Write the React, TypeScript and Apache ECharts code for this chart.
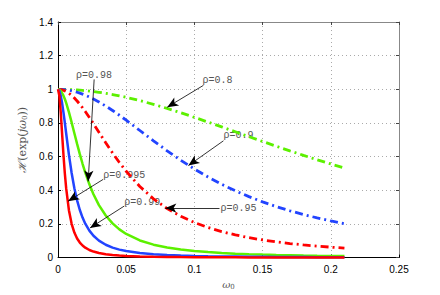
import React, { useEffect, useRef } from "react";
import * as echarts from "echarts";

const omega = [0, 0.001, 0.002, 0.003, 0.004, 0.005, 0.006, 0.008, 0.01, 0.012, 0.014, 0.016, 0.018, 0.02, 0.023, 0.026, 0.03, 0.035, 0.04, 0.045, 0.05, 0.06, 0.07, 0.08, 0.09, 0.1, 0.11, 0.12, 0.13, 0.14, 0.15, 0.16, 0.17, 0.18, 0.19, 0.2, 0.21];

const rho080 = [1, 1, 0.9999, 0.9998, 0.9997, 0.9995, 0.9993, 0.9987, 0.998, 0.9971, 0.9961, 0.9949, 0.9936, 0.9921, 0.9895, 0.9867, 0.9823, 0.9761, 0.969, 0.9611, 0.9524, 0.9329, 0.9108, 0.8866, 0.8607, 0.8335, 0.8053, 0.7766, 0.7477, 0.7187, 0.6901, 0.6619, 0.6343, 0.6074, 0.5815, 0.5564, 0.5323];
const rho090 = [1, 0.9999, 0.9996, 0.9992, 0.9986, 0.9978, 0.9968, 0.9943, 0.9911, 0.9872, 0.9827, 0.9775, 0.9717, 0.9653, 0.9546, 0.9427, 0.9251, 0.9007, 0.8741, 0.8459, 0.8164, 0.7553, 0.6941, 0.6346, 0.5785, 0.5265, 0.479, 0.4358, 0.397, 0.3622, 0.331, 0.3031, 0.2782, 0.2559, 0.2359, 0.218, 0.2018];
const rho095 = [1, 0.9996, 0.9985, 0.9966, 0.994, 0.9906, 0.9865, 0.9763, 0.9634, 0.9481, 0.9307, 0.9114, 0.8904, 0.8681, 0.8326, 0.7956, 0.7452, 0.6824, 0.6219, 0.5652, 0.5129, 0.4224, 0.3495, 0.2915, 0.2454, 0.2085, 0.1788, 0.1547, 0.1349, 0.1185, 0.1049, 0.0934, 0.0836, 0.0753, 0.0681, 0.0619, 0.0565];
const rho098 = [1, 0.9976, 0.9903, 0.9784, 0.9623, 0.9423, 0.919, 0.8645, 0.8032, 0.7392, 0.6756, 0.6146, 0.5575, 0.5051, 0.4355, 0.3765, 0.312, 0.2499, 0.2033, 0.1678, 0.1404, 0.1019, 0.0769, 0.06, 0.048, 0.0393, 0.0327, 0.0276, 0.0236, 0.0204, 0.0179, 0.0157, 0.014, 0.0125, 0.0112, 0.0101, 0.0092];
const rho099 = [1, 0.9902, 0.9619, 0.9182, 0.8633, 0.8016, 0.7373, 0.6121, 0.5025, 0.4123, 0.3401, 0.2829, 0.2377, 0.2016, 0.1603, 0.13, 0.1009, 0.0762, 0.0594, 0.0475, 0.0388, 0.0273, 0.0202, 0.0156, 0.0123, 0.01, 0.0083, 0.007, 0.006, 0.0051, 0.0045, 0.0039, 0.0035, 0.0031, 0.0028, 0.0025, 0.0023];
const rho0995 = [1, 0.9617, 0.8627, 0.7363, 0.611, 0.5013, 0.4111, 0.2819, 0.2008, 0.1486, 0.1136, 0.0894, 0.072, 0.0591, 0.0453, 0.0358, 0.0272, 0.0201, 0.0155, 0.0123, 0.01, 0.0069, 0.0051, 0.0039, 0.0031, 0.0025, 0.0021, 0.0017, 0.0015, 0.0013, 0.0011, 0.001, 0.0009, 0.0008, 0.0007, 0.0006, 0.0006];

const xTicks = [0, 0.05, 0.1, 0.15, 0.2, 0.25];
const yTicks = [0, 0.2, 0.4, 0.6, 0.8, 1, 1.2, 1.4];

// annotations: label text, label anchor (left, middle), arrow start, arrow tip (data coords)
const annLabels = ["ρ=0.98", "ρ=0.8", "ρ=0.9", "ρ=0.95", "ρ=0.99", "ρ=0.995"];
const annText = [[0.0132, 1.0824], [0.1059, 1.0529], [0.1213, 0.7235], [0.1191, 0.2941], [0.0485, 0.3294], [0.0331, 0.4882]];
const annFrom = [[0.0265, 1.0588], [0.1066, 1.0235], [0.1213, 0.6941], [0.1184, 0.2941], [0.0485, 0.3059], [0.0331, 0.4647]];
const annTo = [[0.0221, 0.4529], [0.0801, 0.8941], [0.0956, 0.5471], [0.0787, 0.2941], [0.0235, 0.1765], [0.0074, 0.3353]];

const GREEN = "#5cf000";
const BLUE = "#2244ff";
const RED = "#ff0000";
const DASHDOT = [8, 4, 2, 4];

const pairs = (ys: number[]) => omega.map((w, i) => [w, ys[i]]);
const fmt = (v: number) => String(Math.round(v * 100) / 100);

export default function App() {
  const ref = useRef<HTMLDivElement>(null);
  useEffect(() => {
    document.body.style.margin = "0";
    if (!ref.current) return;
    const chart = echarts.init(ref.current, undefined, { renderer: "svg" });
    const mk = (name: string, ys: number[], color: string, dash: boolean, extra: any = {}) => ({
      type: "line",
      name,
      data: pairs(ys),
      symbol: "none",
      showSymbol: false,
      clip: false,
      silent: true,
      lineStyle: { color, width: dash ? 2.8 : 2.5, type: dash ? DASHDOT : "solid", cap: "butt" },
      ...extra,
    });
    const axisFont = { fontSize: 10, color: "#000", fontFamily: "Liberation Sans, Arial, sans-serif" };
    const option: any = {
      animation: false,
      grid: { left: 58, right: 41, top: 22, bottom: 35, containLabel: false },
      xAxis: [
        {
          type: "value",
          min: 0,
          max: 0.25,
          interval: 0.05,
          name: "{i|ω}{s|0}",
          nameLocation: "middle",
          nameGap: 19,
          nameTextStyle: {
            color: "#555",
            rich: {
              i: { fontSize: 10, fontStyle: "italic", fontFamily: "DejaVu Serif, serif", color: "#555" },
              s: { fontSize: 7, fontFamily: "DejaVu Serif, serif", color: "#555", padding: [4, 0, 0, 0] },
            },
          },
          axisLine: { show: true, onZero: false, lineStyle: { color: "#000", width: 1 } },
          axisTick: { show: true, inside: true, length: 3, lineStyle: { color: "#000" } },
          axisLabel: { ...axisFont, margin: 7, formatter: (v: number) => (xTicks.includes(Math.round(v * 100) / 100) ? fmt(v) : "") },
          splitLine: { show: true, lineStyle: { color: "#aaa", width: 1, type: [1, 3] } },
        },
        {
          type: "value",
          position: "top",
          min: 0,
          max: 0.25,
          interval: 0.05,
          axisLine: { show: true, onZero: false, lineStyle: { color: "#888", width: 1 } },
          axisTick: { show: true, inside: true, length: 3, lineStyle: { color: "#444" } },
          axisLabel: { show: false },
          splitLine: { show: false },
        },
      ],
      yAxis: [
        {
          type: "value",
          min: 0,
          max: 1.4,
          interval: 0.2,
          name: "{i|ℋ}(exp({i|jω}{s|0}))",
          nameLocation: "middle",
          nameGap: 23,
          nameRotate: 90,
          nameTextStyle: {
            color: "#555",
            fontSize: 11,
            fontFamily: "DejaVu Serif, serif",
            rich: {
              i: { fontSize: 11, fontStyle: "italic", fontFamily: "DejaVu Serif, serif", color: "#555" },
              s: { fontSize: 7, fontFamily: "DejaVu Serif, serif", color: "#555", padding: [4, 0, 0, 0] },
            },
          },
          axisLine: { show: true, onZero: false, lineStyle: { color: "#000", width: 1 } },
          axisTick: { show: true, inside: true, length: 3, lineStyle: { color: "#000" } },
          axisLabel: { ...axisFont, margin: 5, formatter: (v: number) => (yTicks.includes(Math.round(v * 10) / 10) ? fmt(v) : "") },
          splitLine: { show: true, lineStyle: { color: "#aaa", width: 1, type: [1, 3] } },
        },
        {
          type: "value",
          position: "right",
          min: 0,
          max: 1.4,
          interval: 0.2,
          axisLine: { show: true, onZero: false, lineStyle: { color: "#888", width: 1 } },
          axisTick: { show: true, inside: true, length: 3, lineStyle: { color: "#444" } },
          axisLabel: { show: false },
          splitLine: { show: false },
        },
      ],
      series: [
        mk("ρ=0.8", rho080, GREEN, true),
        mk("ρ=0.9", rho090, BLUE, true),
        mk("ρ=0.95", rho095, RED, true),
        mk("ρ=0.98", rho098, GREEN, false),
        mk("ρ=0.99", rho099, BLUE, false),
        mk("ρ=0.995", rho0995, RED, false, {
          markLine: {
            silent: true,
            symbol: ["none", "arrow"],
            symbolSize: [7, 11],
            label: { show: false },
            emphasis: { disabled: true },
            lineStyle: { color: "#000", width: 0.8, type: "solid" },
            data: annFrom.map((f, i) => [
              { coord: f, lineStyle: { color: "#000", width: 0.8, type: "solid" } },
              { coord: annTo[i], itemStyle: { color: "#000" } },
            ]),
          },
        }),
      ],
    };
    chart.setOption(option);
    const graphic = annLabels.map((t, i) => {
      const p = chart.convertToPixel({ xAxisIndex: 0, yAxisIndex: 0 }, annText[i]) as number[];
      return {
        type: "text",
        x: p[0],
        y: p[1],
        silent: true,
        style: {
          text: t,
          fill: "#555",
          fontSize: 10,
          fontFamily: "Liberation Mono, DejaVu Sans Mono, monospace",
          align: "left",
          verticalAlign: "middle",
          textAlign: "left",
          textVerticalAlign: "middle",
        },
      };
    });
    chart.setOption({ graphic });
    return () => chart.dispose();
  }, []);
  return <div ref={ref} style={{ width: 440, height: 295 }} />;
}
